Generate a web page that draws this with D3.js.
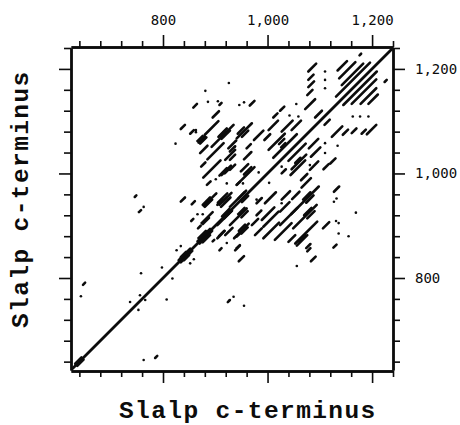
<!DOCTYPE html>
<html>
<head>
<meta charset="utf-8">
<script src="https://cdn.jsdelivr.net/npm/d3@7"></script>
<style>
html, body { margin: 0; padding: 0; background: #fff; }
svg { display: block; }
</style>
</head>
<body>
<svg id="chart" width="460" height="425"></svg>
<script>
// residue numbers on the axes
var axisDomain = [624, 1240];
var majorTicks = [800, 1000, 1200];
var minorTicks = [640, 680, 720, 760, 840, 880, 920, 960, 1040, 1080, 1120, 1160, 1240];
var axisTitle = 'Slalp c-terminus';

// self match, start and end residue
var selfMatch = [627, 1237];
// the fat parts of the self match: [x, y, length]
var selfMatchBlobs = [
	[870,866,24],[866,870,24],[876,868,14],[868,876,14],
	[834,830,22],[830,834,22],[840,834,10],[834,840,10],
	[636,632,12],[632,636,12]
];

// off-diagonal matches: [x, y, length]
var matchRuns = [
	[858,1126,7],[895,1107,12],[834,1085,8],[852,1076,7],[868,1059,12],[871,1057,12],[866,1062,10],
	[880,1074,26],[893,1051,42],[906,1070,16],[912,1066,16],[909,1072,10],[871,1039,14],[885,1027,31],
	[925,1048,15],[919,1026,19],[873,1013,8],[877,992,33],[912,997,18],[908,996,14],[918,1000,12],
	[884,978,7],[941,978,6],[834,946,8],[855,941,6],[878,938,24],[880,936,14],[876,940,14],
	[908,940,23],[905,944,18],[911,936,18],[904,940,10],[914,946,8],[928,936,31],[944,952,12],[951,945,12],
	[854,909,4],[874,905,21],[876,903,12],[867,895,5],[904,901,28],[913,918,14],[917,914,14],
	[904,876,14],[919,882,14],[907,880,10],[895,870,3],[941,879,6],[908,853,4],[941,857,6],
	[966,1130,9],[1011,1107,8],[1024,1120,8],[1072,1123,19],[1076,1150,10],[1078,1165,11],[1078,1179,10],[1078,1195,15],
	[1091,1107,13],[1002,1083,18],[1027,1080,21],[1046,1083,18],[1109,1093,10],[941,1067,29],[943,1076,12],[951,1070,12],
	[974,1064,18],[994,1064,11],[1002,1045,31],[1011,1030,45],[1022,1056,10],[1026,1050,8],[1040,1024,33],[1046,1008,28],
	[1044,997,28],[1053,1020,10],[1079,1048,18],[1083,1032,18],[1081,1007,16],[1107,1008,10],[1120,1019,10],
	[1123,1070,20],[1144,1074,10],[1161,1077,9],[1180,1076,8],[1190,1075,18],[960,1048,8],[955,1027,14],
	[928,1042,10],[928,1026,10],[928,1007,10],[941,978,34],[949,1004,14],[955,998,14],[1027,1000,8],
	[1064,987,12],[1065,973,18],[1127,965,10],[979,943,10],[995,943,21],[1027,950,16],[1047,951,14],
	[1045,922,53],[1068,950,14],[1074,944,14],[1049,895,45],[1070,920,14],[1076,914,14],[928,901,32],[944,922,12],[950,916,12],
	[979,920,8],[989,911,24],[970,901,12],[992,898,29],[1024,927,18],[1024,901,33],
	[936,876,28],[945,890,12],[950,885,12],[976,882,13],[992,876,30],[1014,873,32],[1040,869,13],
	[1053,866,42],[1056,862,20],[1060,870,12],[1106,895,12],[938,853,9],[945,832,10],[1074,857,8],[1076,851,6],[1083,832,9],[1126,858,6],
	[1134,1197,18],[1137,1182,31],[1142,1169,41],[1131,1147,65],[1145,1131,64],[1161,1133,47],[1178,1133,30],[1193,1133,18],
	[1176,1226,3],[1224,1175,4],[908,1131,4],[746,955,3],[754,926,4],[647,787,4],[785,647,4],[924,754,3]
];

// single dots: [x, y]
var matchDots = [
	[926,1173],[881,1158],[886,1137],[905,1138],[946,1131],[955,1136],[863,1079],[863,1083],[824,1057],
	[901,989],[922,981],[763,936],[866,922],[876,922],[922,867],[834,861],[826,853],[859,836],[852,828],
	[798,820],[983,1002],[953,981],[1003,982],[1042,1111],[1059,1109],[1055,1133],[1110,1058],[1110,1039],
	[1134,1053],[1081,1016],[1110,1195],[1110,1179],[1110,1163],[1163,1109],[1177,1109],[1193,1109],
	[1127,946],[1132,952],[1136,885],[1131,909],[1136,905],[1155,880],[1169,925],[1056,823],[758,809],
	[818,799],[643,765],[756,767],[766,758],[737,754],[807,759],[753,739],[763,643],[955,747],[935,764],
	[928,758],[1027,1013],[1027,943],[979,950],[988,929]
];

var ink = '#0c0c0c';
var left = 71, right = 393, top_ = 47, bottom = 371;

var svg = d3.select('#chart');
var x = d3.scaleLinear().domain(axisDomain).range([left, right]);
var y = d3.scaleLinear().domain(axisDomain).range([bottom - 1, top_ + 1]);

// axes
function drawAxis(axis, ticks, size, tx, ty, labels) {
	var g = svg.append('g').attr('transform', 'translate(' + tx + ',' + ty + ')')
		.call(axis.tickValues(ticks).tickSize(size).tickSizeOuter(0).tickPadding(10)
			.tickFormat(labels ? d3.format(',') : ''));
	g.select('.domain').attr('stroke', ink).attr('stroke-width', 2.4);
	g.selectAll('.tick line').attr('stroke', ink).attr('stroke-width', 1.6);
	g.selectAll('text').attr('fill', ink).attr('font-family', '"DejaVu Sans Mono"').attr('font-size', 14);
	return g;
}
drawAxis(d3.axisTop(x), minorTicks, 6, 0, top_, false);
drawAxis(d3.axisTop(x), majorTicks, 12, 0, top_, true);
drawAxis(d3.axisBottom(x), minorTicks, 6, 0, bottom, false);
drawAxis(d3.axisBottom(x), majorTicks, 12, 0, bottom, false);
drawAxis(d3.axisLeft(y), minorTicks, 7, left, 0, false);
drawAxis(d3.axisLeft(y), majorTicks, 12, left, 0, false);
drawAxis(d3.axisRight(y), minorTicks, 7, right, 0, false);
drawAxis(d3.axisRight(y), majorTicks, 12, right, 0, true);

// matches
var marks = svg.append('g').attr('stroke', ink).attr('stroke-linecap', 'round');

marks.append('line')
	.attr('x1', x(selfMatch[0])).attr('y1', y(selfMatch[0]))
	.attr('x2', x(selfMatch[1])).attr('y2', y(selfMatch[1]))
	.attr('stroke-width', 2.8);

marks.selectAll('line.run')
	.data(selfMatchBlobs.concat(matchRuns))
	.enter().append('line')
	.attr('class', 'run')
	.attr('x1', function(d){ return x(d[0]); })
	.attr('y1', function(d){ return y(d[1]); })
	.attr('x2', function(d){ return x(d[0] + d[2]); })
	.attr('y2', function(d){ return y(d[1] + d[2]); })
	.attr('stroke-width', 2.6);

svg.append('g').selectAll('circle')
	.data(matchDots)
	.enter().append('circle')
	.attr('cx', function(d){ return x(d[0]); })
	.attr('cy', function(d){ return y(d[1]); })
	.attr('r', 1.3)
	.attr('fill', ink);

// titles
svg.append('text')
	.attr('x', 119).attr('y', 418)
	.attr('font-family', '"Liberation Mono"').attr('font-weight', 'bold').attr('font-size', 24.5)
	.attr('letter-spacing', 1.4)
	.attr('fill', ink)
	.text(axisTitle);

svg.append('text')
	.attr('transform', 'translate(28,328) rotate(-90)')
	.attr('font-family', '"Liberation Mono"').attr('font-weight', 'bold').attr('font-size', 24.5)
	.attr('letter-spacing', 1.4)
	.attr('fill', ink)
	.text(axisTitle);
</script>
</body>
</html>
